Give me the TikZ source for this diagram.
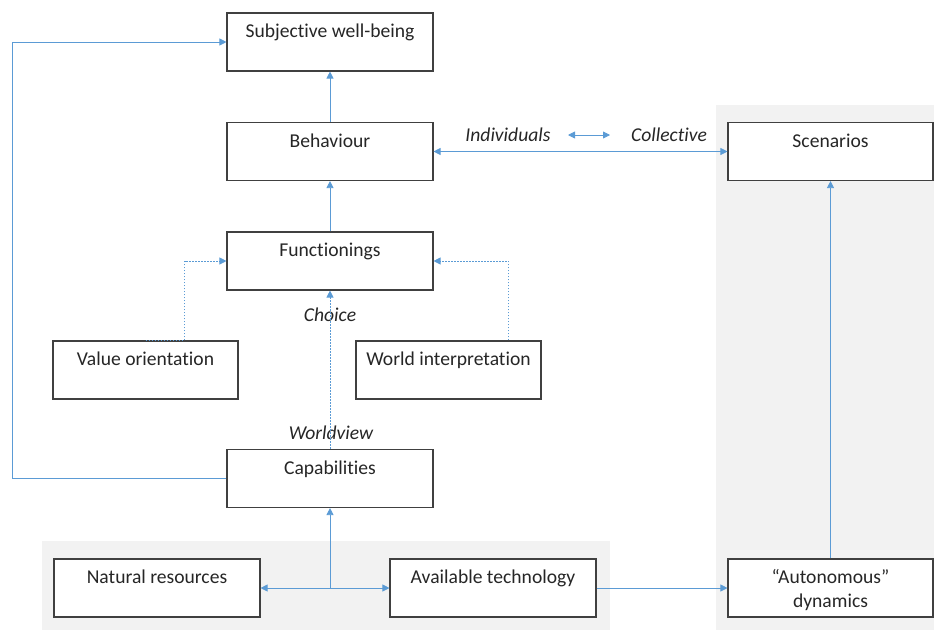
\documentclass[tikz,border=0pt]{standalone}
\usepackage{fontspec}
\setmainfont[Ligatures=NoCommon]{Carlito}
\usetikzlibrary{arrows.meta,calc}
\definecolor{linkblue}{HTML}{5B9BD5}
\definecolor{boxline}{HTML}{404040}
\definecolor{panel}{HTML}{F2F2F2}
% empty second line that keeps the caption in the upper half of a box
\newcommand{\lowline}{\rule[-1.2pt]{0pt}{1pt}}
\newcommand{\nodepth}[1]{\raisebox{0pt}[\height][0pt]{#1}}
\begin{document}
\begin{tikzpicture}[x=1pt,y=-1pt,
  every node/.style={font=\fontsize{19.6}{24}\selectfont},
  box/.style={draw=boxline,line width=1.1pt,fill=white,minimum width=206pt,
    minimum height=58pt,inner sep=2pt,align=center,text=black!85},
  wide/.style={box,minimum width=185pt},
  link/.style={draw=linkblue,line width=0.8pt},
  tip/.style={-{Triangle[length=7pt,width=7pt]}},
  tips/.style={{Triangle[length=7pt,width=7pt]}-{Triangle[length=7pt,width=7pt]}},
  soft/.style={link,dash pattern=on 1.5pt off 1.5pt},
  tag/.style={font=\fontsize{19.6}{24}\selectfont\itshape,text=black!85,inner sep=0pt}]
\useasboundingbox (0,0) rectangle (934,630);

% shaded panels
\fill[panel] (42,541) rectangle (610,630);
\fill[panel] (716,105) rectangle (934,630);

% boxes
\node[box] (swb) at (330,42) {Subjective well-being\strut\\\lowline};
\node[box] (beh) at (330,151.5) {Behaviour\strut\\\lowline};
\node[box] (fun) at (330,261) {Functionings\strut\\\lowline};
\node[wide] (val) at (145.5,370) {Value orientation\strut\\\lowline};
\node[wide] (wor) at (448.5,370) {World interpretation\strut\\\lowline};
\node[box] (cap) at (330,478.5) {Capabilities\strut\\\lowline};
\node[box] (nat) at (157,588) {Natural resources\strut\\\lowline};
\node[box] (tec) at (493,588) {Available technology\strut\\\lowline};
\node[box,minimum width=205pt] (aut) at (830.5,588) {“Autonomous”\strut\\\nodepth{dynamics}\lowline};
\node[box,minimum width=205pt] (sce) at (830.5,151.5) {Scenarios\strut\\\lowline};

% labels
\node[tag] (ind) at (508,135) {Individuals};
\node[tag] (col) at (669,135) {Collective};
\node[tag] (cho) at (330,315) {Choice};
\node[tag] (wvw) at (331,433) {Worldview};

% connectors
\draw[link,tip] (beh) -- (swb);
\draw[link,tip] (fun) -- (beh);
\draw[soft,tip] (cap) -- (fun);
\draw[soft,tip] (val.north) -- ++(39,0) |- (fun.west);
\draw[soft,tip] ([xshift=60pt]wor.north) |- (fun.east);
\draw[link,tip] (cap.west) -| (12,42) -- (swb.west);
\draw[link,tips] (beh.east) -- (sce.west);
\coordinate (ia) at (568,135);
\coordinate (ib) at (610,135);
\draw[link,tips] (ia) -- (ib);
\coordinate (junc) at (330,588);
\draw[link,tip] (junc) -- (cap.south);
\draw[link,tips] (nat.east) -- (tec.west);
\draw[link,tip] (tec.east) -- (aut.west);
\draw[link,tip] (aut.north) -- (sce.south);
\end{tikzpicture}
\end{document}
